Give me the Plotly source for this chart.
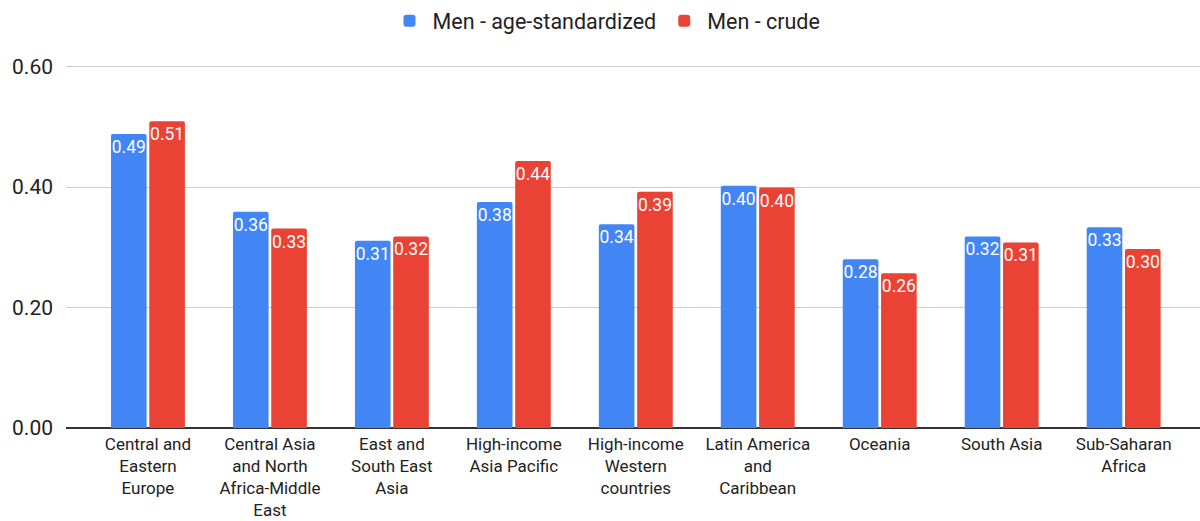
import plotly.graph_objects as go

categories = [
    "Central and<br>Eastern<br>Europe",
    "Central Asia<br>and North<br>Africa-Middle<br>East",
    "East and<br>South East<br>Asia",
    "High-income<br>Asia Pacific",
    "High-income<br>Western<br>countries",
    "Latin America<br>and<br>Caribbean",
    "Oceania",
    "South Asia",
    "Sub-Saharan<br>Africa",
]
men_age_std = [0.488, 0.359, 0.311, 0.375, 0.338, 0.402, 0.280, 0.318, 0.333]
men_crude = [0.509, 0.331, 0.318, 0.443, 0.392, 0.399, 0.257, 0.308, 0.297]
series_names = ["Men - age-standardized", "Men - crude"]
colors = ["#4285F4", "#EA4335"]
y_ticks = [0.0, 0.2, 0.4, 0.6]
y_tick_labels = ["0.00", "0.20", "0.40", "0.60"]

FONT = "Roboto, Arial, sans-serif"

fig = go.Figure()
for name, vals, col in zip(series_names, [men_age_std, men_crude], colors):
    fig.add_trace(go.Bar(
        name=name,
        x=list(range(len(categories))),
        y=vals,
        marker=dict(color=col, cornerradius=2, line=dict(width=0)),
        texttemplate="%{y:.2f}",
        textposition="inside",
        insidetextanchor="end",
        textangle=0,
        constraintext="none",
        textfont=dict(family=FONT, size=17.5, color="#ffffff"),
        hoverinfo="skip",
    ))

fig.update_layout(
    width=1200,
    height=521,
    margin=dict(l=66, r=0, t=60, b=93, autoexpand=False),
    paper_bgcolor="white",
    plot_bgcolor="white",
    barmode="group",
    bargap=0.372,
    bargroupgap=0.07,
    font=dict(family=FONT, color="#222222"),
    showlegend=True,
    legend=dict(
        orientation="h",
        xref="container", yref="container",
        x=0.505, y=0.96,
        xanchor="center", yanchor="middle",
        font=dict(family=FONT, size=21.5, color="#222222"),
        itemwidth=36,
        traceorder="normal",
    ),
    xaxis=dict(
        tickmode="array",
        tickvals=list(range(len(categories))),
        ticktext=categories,
        range=[-0.672, 8.626],
        tickfont=dict(family=FONT, size=17, color="#222222"),
        showgrid=False,
        showline=False,
        zeroline=False,
        ticks="",
        ticklabelstandoff=4,
        fixedrange=True,
    ),
    yaxis=dict(
        range=[0, 0.6108],
        tickmode="array",
        tickvals=y_ticks,
        ticktext=y_tick_labels,
        tickfont=dict(family=FONT, size=21, color="#222222"),
        showgrid=True,
        gridcolor="#cccccc",
        gridwidth=1,
        zeroline=True,
        zerolinecolor="#333333",
        zerolinewidth=1.5,
        showline=False,
        ticks="",
        ticklabelstandoff=12,
        fixedrange=True,
    ),
)

fig.write_html(
    "out.html",
    config={"displayModeBar": False, "staticPlot": True},
    post_script="document.body.style.margin='0';document.body.style.overflow='hidden';",
)
